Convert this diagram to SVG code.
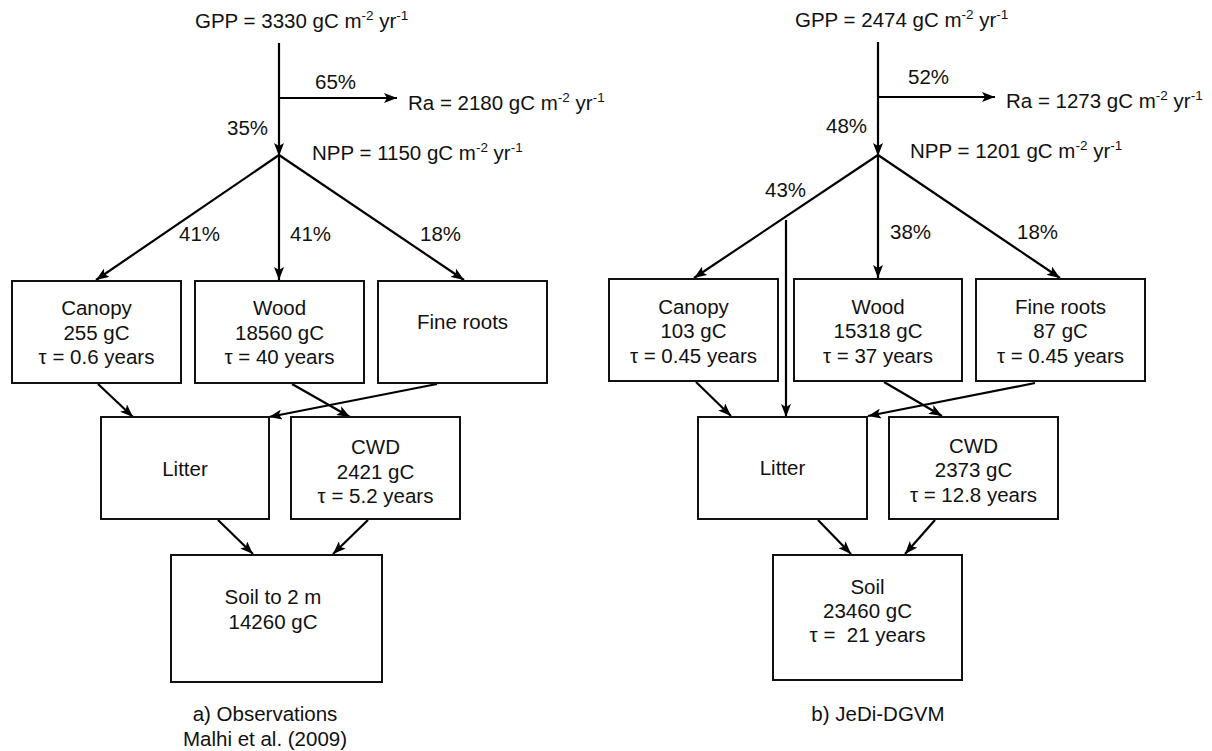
<svg xmlns="http://www.w3.org/2000/svg" width="1212" height="751" viewBox="0 0 1212 751">
<defs>
<marker id="ah" markerWidth="14" markerHeight="10" refX="13" refY="5" orient="auto" markerUnits="userSpaceOnUse">
<path d="M0,0 L13,5 L0,10 L3,5 z" fill="#000"/>
</marker>
<style>
text{font-family:"Liberation Sans",Arial,Helvetica,sans-serif;font-size:20.5px;fill:#111}
.c{text-anchor:middle}
.s{font-size:13.5px}
.box{fill:#fff;stroke:#111;stroke-width:2}
.ar{stroke:#000;stroke-width:2.2;fill:none;marker-end:url(#ah)}
</style>
</defs>
<rect width="1212" height="751" fill="#fff"/>

<g id="connectors">
<line class="ar" x1="279" y1="43" x2="279" y2="156"/>
<line class="ar" x1="279" y1="98" x2="397" y2="98"/>
<line class="ar" x1="279" y1="155" x2="96" y2="280"/>
<line class="ar" x1="279" y1="155" x2="279" y2="280"/>
<line class="ar" x1="279" y1="155" x2="464" y2="280"/>
<line class="ar" x1="98" y1="384" x2="133" y2="417"/>
<line class="ar" x1="292" y1="384" x2="350" y2="417"/>
<line class="ar" x1="437" y1="384" x2="269" y2="417"/>
<line class="ar" x1="218" y1="520" x2="253" y2="554"/>
<line class="ar" x1="368" y1="520" x2="333" y2="554"/>

<line class="ar" x1="878" y1="42" x2="878" y2="156"/>
<line class="ar" x1="878" y1="97" x2="995" y2="97"/>
<line class="ar" x1="878" y1="155" x2="694" y2="278"/>
<line class="ar" x1="878" y1="155" x2="878" y2="278"/>
<line class="ar" x1="878" y1="155" x2="1060" y2="278"/>
<line class="ar" x1="786" y1="220" x2="786" y2="417"/>
<line class="ar" x1="696" y1="382" x2="731" y2="416"/>
<line class="ar" x1="884" y1="382" x2="942" y2="416"/>
<line class="ar" x1="1035" y1="383" x2="868" y2="416"/>
<line class="ar" x1="818" y1="520" x2="851" y2="554"/>
<line class="ar" x1="935" y1="520" x2="905" y2="554"/>
</g>

<g id="labels-a">
<text x="195" y="28">GPP = 3330 gC m<tspan class="s" dy="-8">-2</tspan><tspan dy="8"> yr</tspan><tspan class="s" dy="-8">-1</tspan></text>
<text x="315" y="89">65%</text>
<text x="408" y="110">Ra = 2180 gC m<tspan class="s" dy="-8">-2</tspan><tspan dy="8"> yr</tspan><tspan class="s" dy="-8">-1</tspan></text>
<text x="227" y="135">35%</text>
<text x="312" y="160">NPP = 1150 gC m<tspan class="s" dy="-8">-2</tspan><tspan dy="8"> yr</tspan><tspan class="s" dy="-8">-1</tspan></text>
<text x="179" y="241">41%</text>
<text x="290" y="241">41%</text>
<text x="420" y="241">18%</text>
</g>

<g id="labels-b">
<text x="795" y="27">GPP = 2474 gC m<tspan class="s" dy="-8">-2</tspan><tspan dy="8"> yr</tspan><tspan class="s" dy="-8">-1</tspan></text>
<text x="908" y="84">52%</text>
<text x="1006" y="108">Ra = 1273 gC m<tspan class="s" dy="-8">-2</tspan><tspan dy="8"> yr</tspan><tspan class="s" dy="-8">-1</tspan></text>
<text x="826" y="133">48%</text>
<text x="910" y="158">NPP = 1201 gC m<tspan class="s" dy="-8">-2</tspan><tspan dy="8"> yr</tspan><tspan class="s" dy="-8">-1</tspan></text>
<text x="765" y="197">43%</text>
<text x="890" y="239">38%</text>
<text x="1017" y="239">18%</text>
</g>

<g id="canopy-a"><rect class="box" x="12" y="281" width="169" height="102"/>
<text class="c" x="96.5" y="315">Canopy</text><text class="c" x="96.5" y="340">255 gC</text><text class="c" x="96.5" y="364">τ = 0.6 years</text></g>
<g id="wood-a"><rect class="box" x="195" y="281" width="169" height="102"/>
<text class="c" x="279.5" y="315">Wood</text><text class="c" x="279.5" y="340">18560 gC</text><text class="c" x="279.5" y="364">τ = 40 years</text></g>
<g id="fineroots-a"><rect class="box" x="378" y="281" width="169" height="102"/>
<text class="c" x="462.5" y="329">Fine roots</text></g>
<g id="litter-a"><rect class="box" x="101" y="417" width="168" height="102"/>
<text class="c" x="185" y="476">Litter</text></g>
<g id="cwd-a"><rect class="box" x="291" y="417" width="169" height="102"/>
<text class="c" x="375.5" y="454">CWD</text><text class="c" x="375.5" y="479">2421 gC</text><text class="c" x="375.5" y="503">τ = 5.2 years</text></g>
<g id="soil-a"><rect class="box" x="171" y="555" width="211" height="127"/>
<text class="c" x="273" y="604">Soil to 2 m</text><text class="c" x="273" y="629">14260 gC</text></g>
<g id="caption-a"><text class="c" x="265" y="721">a) Observations</text><text class="c" x="265" y="746">Malhi et al. (2009)</text></g>

<g id="canopy-b"><rect class="box" x="609" y="279" width="169" height="102"/>
<text class="c" x="693.5" y="314">Canopy</text><text class="c" x="693.5" y="338">103 gC</text><text class="c" x="693.5" y="363">τ = 0.45 years</text></g>
<g id="wood-b"><rect class="box" x="794" y="279" width="168" height="102"/>
<text class="c" x="878" y="314">Wood</text><text class="c" x="878" y="338">15318 gC</text><text class="c" x="878" y="363">τ = 37 years</text></g>
<g id="fineroots-b"><rect class="box" x="976" y="279" width="169" height="102"/>
<text class="c" x="1060.5" y="314">Fine roots</text><text class="c" x="1060.5" y="338">87 gC</text><text class="c" x="1060.5" y="363">τ = 0.45 years</text></g>
<g id="litter-b"><rect class="box" x="698" y="417" width="169" height="102"/>
<text class="c" x="782.5" y="475">Litter</text></g>
<g id="cwd-b"><rect class="box" x="889" y="417" width="169" height="102"/>
<text class="c" x="973.5" y="453">CWD</text><text class="c" x="973.5" y="477">2373 gC</text><text class="c" x="973.5" y="502">τ = 12.8 years</text></g>
<g id="soil-b"><rect class="box" x="773" y="555" width="189" height="125"/>
<text class="c" x="867.5" y="594">Soil</text><text class="c" x="867.5" y="618">23460 gC</text><text class="c" x="867.5" y="642" xml:space="preserve">τ =  21 years</text></g>
<g id="caption-b"><text class="c" x="878" y="721">b) JeDi-DGVM</text></g>
</svg>
